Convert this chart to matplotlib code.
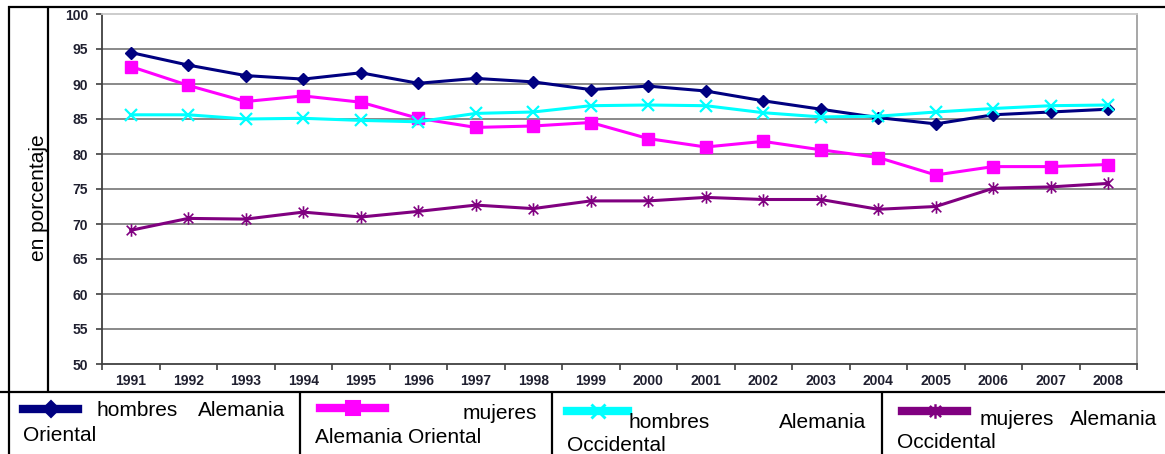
import numpy as np
import matplotlib.pyplot as plt
from matplotlib.lines import Line2D
from matplotlib.path import Path

plt.rcParams['font.family'] = ['Liberation Sans', 'DejaVu Sans']

# Data
years = ['1991', '1992', '1993', '1994', '1995', '1996', '1997', '1998', '1999',
         '2000', '2001', '2002', '2003', '2004', '2005', '2006', '2007', '2008']
hombres_oriental = [94.5, 92.7, 91.2, 90.7, 91.6, 90.1, 90.8, 90.3, 89.2,
                    89.7, 89.0, 87.6, 86.4, 85.2, 84.3, 85.6, 86.0, 86.4]
mujeres_oriental = [92.5, 89.8, 87.5, 88.3, 87.4, 85.1, 83.8, 84.0, 84.5,
                    82.2, 81.0, 81.8, 80.6, 79.5, 77.0, 78.2, 78.2, 78.5]
hombres_occidental = [85.6, 85.6, 85.0, 85.1, 84.8, 84.6, 85.8, 86.0, 86.9,
                      87.0, 86.9, 85.9, 85.3, 85.4, 86.0, 86.5, 86.9, 87.0]
mujeres_occidental = [69.1, 70.8, 70.7, 71.7, 71.0, 71.8, 72.7, 72.2, 73.3,
                      73.3, 73.8, 73.5, 73.5, 72.1, 72.5, 75.1, 75.3, 75.8]
yticks = [50, 55, 60, 65, 70, 75, 80, 85, 90, 95, 100]

W, H = 1165, 454

def px(x, y):
    # pixel coords (top-left origin) -> figure fraction
    return x / W, 1 - y / H

# star marker: x plus vertical bar (Excel style)
star = Path([(-1, -1), (1, 1), (-1, 1), (1, -1), (0, -1.3), (0, 1.3)],
            [Path.MOVETO, Path.LINETO, Path.MOVETO, Path.LINETO, Path.MOVETO, Path.LINETO])

series = [
    (hombres_oriental, '#000080', 'D', 6.5, 1.0),
    (mujeres_oriental, '#FF00FF', 's', 8.5, 1.0),
    (hombres_occidental, '#00FFFF', 'x', 9, 1.6),
    (mujeres_occidental, '#800080', star, 9, 1.2),
]

fig = plt.figure(figsize=(W / 100, H / 100), dpi=100)
ax = fig.add_axes([102 / W, (H - 364) / H, 1035 / W, 350 / H])

x = np.arange(len(years))
for vals, col, mk, ms, mew in series:
    ax.plot(x, vals, color=col, lw=2.2, marker=mk, ms=ms, mew=mew,
            mec=col, mfc=col, zorder=3)

for yv in yticks[1:-1]:
    ax.axhline(yv, color='#808080', lw=1.3, zorder=1)

ax.set_xlim(-0.5, len(years) - 0.5)
ax.set_ylim(50, 100)
ax.set_yticks(yticks)
ax.set_yticklabels([str(v) for v in yticks])
ax.set_xticks(x)
ax.set_xticklabels(years)
ax.set_xticks(np.arange(-0.5, len(years)), minor=True)
ax.tick_params(axis='x', which='major', length=0, pad=7, labelsize=10,
               labelcolor='#202030')
ax.tick_params(axis='x', which='minor', length=4, width=1.2, color='#404040')
ax.tick_params(axis='y', length=4, width=1.2, color='#404040', pad=6,
               labelsize=10, labelcolor='#202030')
for lab in ax.get_xticklabels() + ax.get_yticklabels():
    lab.set_fontweight('bold')

ax.spines['left'].set_color('#404040')
ax.spines['bottom'].set_color('#404040')
ax.spines['left'].set_linewidth(1.3)
ax.spines['bottom'].set_linewidth(1.3)
ax.spines['top'].set_color('#c8c8c8')
ax.spines['right'].set_color('#a0a0a0')
ax.spines['top'].set_linewidth(1.3)
ax.spines['right'].set_linewidth(1.3)

# y label
fig.text(*px(38, 198), 'en porcentaje', rotation=90, ha='center', va='center',
         fontsize=15)

# frame lines
def fline(x0, y0, x1, y1, lw=1.6):
    a, b = px(x0, y0)
    c, d = px(x1, y1)
    fig.add_artist(Line2D([a, c], [b, d], color='black', lw=lw,
                          solid_capstyle='butt'))

fline(8, 7, W, 7)
fline(9, 6, 9, H)
fline(48, 7, 48, 392)
fline(0, 392, W, 392)
for xs in [300, 552, 882]:
    fline(xs, 392, xs, H)

# legend cells
legend_samples = [
    (23, 78, 409, 0),
    (320, 385, 408, 1),
    (567, 628, 411, 2),
    (902, 967, 411, 3),
]
for x0, x1, yy, i in legend_samples:
    vals, col, mk, ms, mew = series[i]
    a, b = px(x0, yy)
    c, _ = px(x1, yy)
    fig.add_artist(Line2D([a, c], [b, b], color=col, lw=6,
                          solid_capstyle='projecting'))
    fig.add_artist(Line2D([(a + c) / 2], [b], color=col, lw=0, marker=mk,
                          ms=ms + 1.5, mew=mew + 0.5, mec=col, mfc=col))

fs = 15
texts = [
    (97, 416, 'hombres', 'left'),
    (285, 416, 'Alemania', 'right'),
    (23, 441, 'Oriental', 'left'),
    (537, 419, 'mujeres', 'right'),
    (315, 443, 'Alemania Oriental', 'left'),
    (628, 428, 'hombres', 'left'),
    (866, 428, 'Alemania', 'right'),
    (567, 451, 'Occidental', 'left'),
    (980, 425, 'mujeres', 'left'),
    (1157, 425, 'Alemania', 'right'),
    (897, 448, 'Occidental', 'left'),
]
for tx, ty, s, ha in texts:
    fig.text(*px(tx, ty), s, ha=ha, va='baseline', fontsize=fs)

fig.savefig('out.png', dpi=100)
